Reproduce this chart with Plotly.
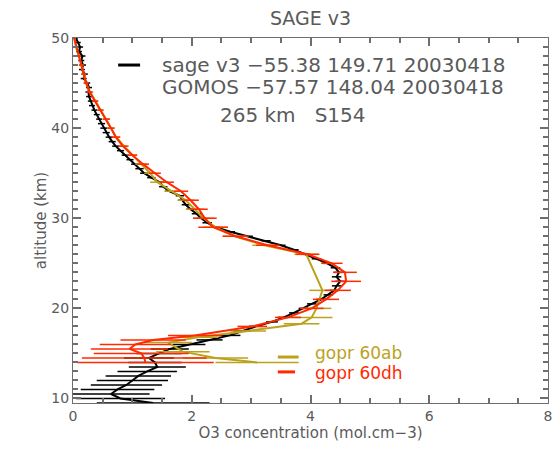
import plotly.graph_objects as go

# --- SAGE III (v3) ozone profile -------------------------------------------
sage_alt = [50.0, 49.5, 49.0, 48.5, 48.0, 47.5, 47.0, 46.5, 46.0, 45.5,
            45.0, 44.5, 44.0, 43.5, 43.0, 42.5, 42.0, 41.5, 41.0, 40.5,
            40.0, 39.5, 39.0, 38.5, 38.0, 37.5, 37.0, 36.5, 36.0, 35.5,
            35.0, 34.5, 34.0, 33.5, 33.0, 32.5, 32.0, 31.5, 31.0, 30.5,
            30.0, 29.5, 29.0, 28.5, 28.0, 27.5, 27.0, 26.5, 26.0, 25.5,
            25.0, 24.5, 24.0, 23.5, 23.0, 22.5, 22.0, 21.5, 21.0, 20.5,
            20.0, 19.5, 19.0, 18.5, 18.0, 17.5, 17.0, 16.5, 16.0, 15.5,
            15.0, 14.5, 14.0, 13.5, 13.0, 12.5, 12.0, 11.5, 11.0, 10.5,
            10.0, 9.5]
sage_o3 = [0.05, 0.09, 0.12, 0.10, 0.16, 0.14, 0.17, 0.15, 0.20, 0.18,
           0.24, 0.27, 0.26, 0.27, 0.30, 0.32, 0.36, 0.40, 0.44, 0.48,
           0.52, 0.56, 0.61, 0.66, 0.72, 0.80, 0.88, 0.96, 1.05, 1.12,
           1.20, 1.32, 1.46, 1.52, 1.62, 1.80, 1.84, 1.90, 1.98, 2.08,
           2.16, 2.26, 2.40, 2.65, 2.95, 3.25, 3.50, 3.72, 3.92, 4.10,
           4.28, 4.42, 4.48, 4.44, 4.50, 4.44, 4.40, 4.30, 4.18, 4.02,
           3.88, 3.72, 3.55, 3.35, 3.08, 2.85, 2.64, 2.30, 1.95, 1.63,
           1.45, 1.28, 1.38, 1.42, 1.25, 1.10, 1.00, 0.90, 0.75, 0.64,
           0.80, 1.35]
sage_err = [0.03, 0.04, 0.05, 0.05, 0.05, 0.05, 0.05, 0.05, 0.05, 0.05,
            0.05, 0.05, 0.05, 0.05, 0.05, 0.05, 0.05, 0.05, 0.05, 0.06,
            0.06, 0.06, 0.06, 0.06, 0.06, 0.06, 0.06, 0.06, 0.07, 0.07,
            0.07, 0.07, 0.07, 0.07, 0.07, 0.07, 0.07, 0.07, 0.07, 0.08,
            0.08, 0.08, 0.08, 0.08, 0.08, 0.08, 0.08, 0.08, 0.08, 0.08,
            0.08, 0.08, 0.08, 0.08, 0.08, 0.08, 0.08, 0.08, 0.08, 0.08,
            0.08, 0.08, 0.10, 0.10, 0.12, 0.15, 0.18, 0.22, 0.28, 0.32,
            0.38, 0.42, 0.45, 0.48, 0.50, 0.55, 0.60, 0.60, 0.62, 0.65,
            0.75, 0.95]

# --- GOMOS, processing 60ab --------------------------------------------------
ab_alt = [50, 49, 48, 47, 46, 45, 44, 43, 42, 41, 40, 39, 38, 37, 36, 35,
          34, 33, 32, 31, 30, 29, 28, 27, 26, 22, 20, 19, 18.3, 17.5, 16.8,
          16.2, 15.2, 14.5, 14.0]
ab_o3 = [0.02, 0.05, 0.10, 0.14, 0.18, 0.22, 0.29, 0.38, 0.47, 0.56, 0.64,
         0.73, 0.86, 1.00, 1.15, 1.30, 1.42, 1.66, 1.90, 2.05, 2.20, 2.40,
         2.72, 3.22, 3.93, 4.20, 4.10, 4.02, 3.85, 2.95, 2.10, 1.60, 1.85,
         2.40, 3.10]
ab_err = [0.02, 0.03, 0.03, 0.04, 0.04, 0.04, 0.05, 0.05, 0.05, 0.06, 0.06,
          0.07, 0.08, 0.08, 0.10, 0.10, 0.12, 0.12, 0.14, 0.15, 0.18, 0.20,
          0.20, 0.20, 0.20, 0.22, 0.25, 0.35, 0.30, 0.30, 0.35, 0.40, 0.45,
          0.55, 0.70]

# --- GOMOS, processing 60dh --------------------------------------------------
dh_alt = [50, 49, 48, 47, 46, 45, 44, 43, 42, 41, 40, 39, 38, 37, 36, 35,
          34, 33, 32, 31, 30, 29, 28, 27, 26, 25, 24, 23, 22, 21, 20, 19, 18,
          17, 16.5, 16, 15.5, 15, 14.5, 14]
dh_o3 = [0.02, 0.06, 0.10, 0.14, 0.18, 0.22, 0.28, 0.37, 0.46, 0.56, 0.64,
         0.72, 0.84, 1.00, 1.18, 1.38, 1.58, 1.82, 1.98, 2.12, 2.22, 2.36,
         2.74, 3.28, 3.95, 4.36, 4.58, 4.60, 4.46, 4.26, 4.02, 3.62, 3.02,
         2.05, 1.35, 1.05, 0.95, 1.15, 1.20, 1.22]
dh_err = [0.02, 0.03, 0.03, 0.04, 0.04, 0.04, 0.05, 0.05, 0.05, 0.06, 0.06,
          0.07, 0.08, 0.08, 0.10, 0.10, 0.12, 0.12, 0.14, 0.15, 0.20, 0.25,
          0.22, 0.20, 0.20, 0.18, 0.20, 0.25, 0.22, 0.22, 0.20, 0.22, 0.25,
          0.45, 0.55, 0.60, 0.65, 0.80, 1.05, 1.15]

x_range = [0, 8]
y_range = [9.5, 50]
x_ticks = [0, 2, 4, 6, 8]
y_ticks = [10, 20, 30, 40, 50]

BLACK = "#000000"
OLIVE = "#bba21c"
RED = "#ff2a00"
GREY = "#5a5a5a"
AXIS = "#6e6e6e"
FONT = "DejaVu Sans"

fig = go.Figure()


def profile(alt, o3, err, color):
    return go.Scatter(
        x=o3, y=alt, mode="lines",
        line=dict(color=color, width=2),
        error_x=dict(type="data", array=err, visible=True,
                     color=color, thickness=1.5, width=0),
        showlegend=False, hoverinfo="skip",
    )


fig.add_trace(profile(sage_alt, sage_o3, sage_err, BLACK))
fig.add_trace(profile(ab_alt, ab_o3, ab_err, OLIVE))
fig.add_trace(profile(dh_alt, dh_o3, dh_err, RED))

# transparent anchor trace so the top/right tick axes are drawn
fig.add_trace(go.Scatter(x=x_range, y=y_range, xaxis="x2", yaxis="y2",
                         mode="markers", marker=dict(opacity=0),
                         showlegend=False, hoverinfo="skip"))

# Header key (top left) and processing key (bottom right)
fig.add_shape(type="line", xref="x", yref="y", x0=0.76, x1=1.13,
              y0=47.0, y1=47.0, line=dict(color=BLACK, width=3))
fig.add_shape(type="line", xref="x", yref="y", x0=3.45, x1=3.80,
              y0=14.6, y1=14.6, line=dict(color=OLIVE, width=3))
fig.add_shape(type="line", xref="x", yref="y", x0=3.45, x1=3.74,
              y0=12.95, y1=12.95, line=dict(color=RED, width=3))

key_text = [
    ("sage v3 \u221255.38 149.71 20030418", 1.465, 47.0),
    ("GOMOS \u221257.57 148.04 20030418", 1.465, 44.56),
    ("265 km   S154", 2.44, 41.45),
]
for txt, x, y in key_text:
    fig.add_annotation(text=txt, x=x, y=y, xref="x", yref="y",
                       xanchor="left", yanchor="middle", showarrow=False,
                       font=dict(family=FONT, size=20, color=GREY))

for txt, y, col in [("gopr 60ab", 15.05, OLIVE), ("gopr 60dh", 12.85, RED)]:
    fig.add_annotation(text=txt, x=4.04, y=y, xref="x", yref="y",
                       xanchor="left", yanchor="middle", showarrow=False,
                       font=dict(family=FONT, size=17, color=col))

# regular tick spacing taken from the tick label lists
x_tick_step = dict(tickmode="linear", tick0=x_ticks[0],
                   dtick=x_ticks[1] - x_ticks[0])
y_tick_step = dict(tickmode="linear", tick0=y_ticks[0],
                   dtick=y_ticks[1] - y_ticks[0])

axis_common = dict(
    showline=True, linecolor=AXIS, linewidth=1, mirror=True,
    ticks="inside", ticklen=8, tickcolor=AXIS, tickwidth=2,
    showgrid=False, zeroline=False,
    tickfont=dict(family=FONT, size=14, color=GREY),
)
mirror_common = dict(
    showticklabels=False, showline=False, showgrid=False, zeroline=False,
    ticks="inside", ticklen=8, tickcolor=AXIS, tickwidth=2,
)
minor_x = dict(dtick=0.5, ticks="inside", ticklen=5, tickcolor=AXIS,
               tickwidth=2)
minor_y = dict(dtick=1, ticks="inside", ticklen=5, tickcolor=AXIS,
               tickwidth=2)

fig.update_layout(
    template="none",
    xaxis=dict(
        range=x_range, minor=minor_x,
        title=dict(text="O3 concentration (mol.cm\u22123)", standoff=4,
                   font=dict(family=FONT, size=15, color=GREY)),
        **x_tick_step, **axis_common,
    ),
    yaxis=dict(
        range=y_range, minor=minor_y,
        title=dict(text="altitude (km)", standoff=1,
                   font=dict(family=FONT, size=15, color=GREY)),
        **y_tick_step, **axis_common,
    ),
    xaxis2=dict(overlaying="x", side="top", range=x_range, minor=minor_x,
                **x_tick_step, **mirror_common),
    yaxis2=dict(overlaying="y", side="right", range=y_range, minor=minor_y,
                **y_tick_step, **mirror_common),
    width=557, height=449,
    margin=dict(l=73, r=9, t=38, b=46),
    paper_bgcolor="white", plot_bgcolor="white",
    title=dict(text="SAGE v3", x=(73 + 548) / 2 / 557, xanchor="center",
               y=1 - 18 / 449, yanchor="middle",
               font=dict(family=FONT, size=19, color=GREY)),
    showlegend=False,
)

fig.write_html("out.html")
